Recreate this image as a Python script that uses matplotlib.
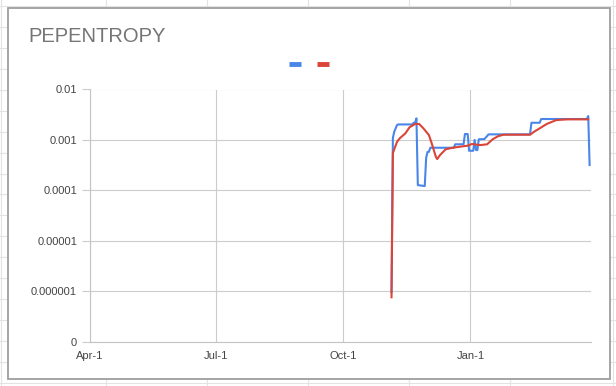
import numpy as np
import pandas as pd
import matplotlib
matplotlib.use("Agg")
import matplotlib.pyplot as plt
from matplotlib.lines import Line2D
from matplotlib.patches import Rectangle
from matplotlib.ticker import NullLocator

# ---------------------------------------------------------
# Data
# ---------------------------------------------------------
blue_dates = ["2021-11-05", "2021-11-06", "2021-11-07", "2021-11-09", "2021-11-10",
              "2021-11-20", "2021-11-21", "2021-11-22", "2021-11-23", "2021-11-24",
              "2021-11-29", "2021-11-30", "2021-12-01", "2021-12-02", "2021-12-03",
              "2021-12-20", "2021-12-21", "2021-12-27", "2021-12-28", "2021-12-30",
              "2021-12-31", "2022-01-03", "2022-01-04", "2022-01-05", "2022-01-06",
              "2022-01-07", "2022-01-11", "2022-01-13", "2022-01-14", "2022-02-13",
              "2022-02-14", "2022-02-20", "2022-02-21", "2022-03-26", "2022-03-27",
              "2022-03-28"]
blue_vals = [9.6e-7, 1.1e-3, 1.46e-3, 1.98e-3, 2.03e-3,
             2.03e-3, 2.19e-3, 2.19e-3, 2.68e-3, 1.27e-4,
             1.22e-4, 4.4e-4, 5.8e-4, 5.8e-4, 7.0e-4,
             7.0e-4, 8.2e-4, 8.2e-4, 1.31e-3, 1.31e-3,
             6.1e-4, 6.1e-4, 1.0e-3, 6.3e-4, 6.3e-4,
             1.03e-3, 1.04e-3, 1.19e-3, 1.29e-3, 1.29e-3,
             2.19e-3, 2.19e-3, 2.6e-3, 2.6e-3, 2.98e-3,
             3.18e-4]

red_dates = ["2021-11-05", "2021-11-06", "2021-11-09", "2021-11-11", "2021-11-15",
             "2021-11-18", "2021-11-22", "2021-11-25", "2021-11-28", "2021-12-02",
             "2021-12-04", "2021-12-07", "2021-12-08", "2021-12-10", "2021-12-14",
             "2021-12-19", "2021-12-30", "2022-01-02", "2022-01-08", "2022-01-13",
             "2022-01-17", "2022-01-21", "2022-01-25", "2022-02-13", "2022-02-16",
             "2022-02-20", "2022-02-25", "2022-03-04", "2022-03-12", "2022-03-27"]
red_vals = [7.6e-7, 5.5e-4, 9.2e-4, 1.08e-3, 1.35e-3,
            1.78e-3, 2.07e-3, 2.07e-3, 1.70e-3, 1.25e-3,
            8.6e-4, 4.65e-4, 4.18e-4, 5.0e-4, 6.5e-4,
            7.0e-4, 7.7e-4, 8.3e-4, 7.9e-4, 8.2e-4,
            1.03e-3, 1.19e-3, 1.27e-3, 1.27e-3, 1.46e-3,
            1.70e-3, 2.07e-3, 2.48e-3, 2.56e-3, 2.56e-3]

ytick_vals = [1e-7, 1e-6, 1e-5, 1e-4, 1e-3, 1e-2]
ytick_labels = ["0", "0.000001", "0.00001", "0.0001", "0.001", "0.01"]
xtick_dates = ["2021-04-01", "2021-07-01", "2021-10-01", "2022-01-01"]
xtick_labels = ["Apr-1", "Jul-1", "Oct-1", "Jan-1"]
x_range = ["2021-04-01", "2022-03-29"]

title = "PEPENTROPY"
blue_color = "#4a86e8"
red_color = "#db4437"

# ---------------------------------------------------------
# Figure
# ---------------------------------------------------------
plt.rcParams['font.family'] = ['Liberation Sans', 'DejaVu Sans']

W, H = 616, 386
fig = plt.figure(figsize=(W / 100, H / 100), dpi=100)

# spreadsheet cells behind the chart
for x in [1, 106, 207, 308, 409, 510, 612.5]:
    fig.add_artist(Line2D([x / W, x / W], [0, 1], color="#e3e3e3", lw=0.8, zorder=-3))
for y in np.arange(6, H, 20.94):
    fig.add_artist(Line2D([0, 1], [1 - y / H, 1 - y / H], color="#e3e3e3", lw=0.8, zorder=-3))

# chart card
fig.add_artist(Rectangle((7.5 / W, 1 - 378.5 / H), 602 / W, 371 / H,
                         transform=fig.transFigure, facecolor="white",
                         edgecolor="#9e9e9e", lw=1.3, zorder=-1))

ax = fig.add_axes([89.5 / W, 44.3 / H, 501.5 / W, 252.2 / H])
ax.set_facecolor("none")

ax.plot(pd.to_datetime(blue_dates), blue_vals, color=blue_color, lw=1.5, zorder=3)
ax.plot(pd.to_datetime(red_dates), red_vals, color=red_color, lw=1.5, zorder=4)

ax.set_yscale("log")
ax.set_ylim(ytick_vals[0], ytick_vals[-1])
ax.set_yticks(ytick_vals)
ax.set_yticklabels(ytick_labels)
ax.yaxis.set_minor_locator(NullLocator())

ax.set_xlim(pd.to_datetime(x_range[0]), pd.to_datetime(x_range[1]))
ax.set_xticks(pd.to_datetime(xtick_dates))
ax.set_xticklabels(xtick_labels)

ax.grid(True, color="#cccccc", lw=0.8)
ax.set_axisbelow(True)
for s in ["top", "right"]:
    ax.spines[s].set_visible(False)
for s in ["left", "bottom"]:
    ax.spines[s].set_color("#c4c4c4")
    ax.spines[s].set_linewidth(0.8)

ax.tick_params(axis="y", length=6, width=0.8, color="#cccccc", pad=3,
               labelsize=8, labelcolor="#444444")
ax.tick_params(axis="x", length=0, pad=7, labelsize=8, labelcolor="#444444")

fig.text(28 / W, 1 - 37 / H, title, fontsize=14.5, color="#757575",
         ha="left", va="center")

handles = [Line2D([], [], color=blue_color, lw=3.5, solid_capstyle="butt"),
           Line2D([], [], color=red_color, lw=3.5, solid_capstyle="butt")]
fig.legend(handles, ["", ""], loc="center", bbox_to_anchor=(309 / W, 1 - 65 / H),
           ncol=2, frameon=False, fontsize=8, handlelength=1.1,
           handletextpad=0, columnspacing=1.4)

fig.savefig("out.png", dpi=100)
